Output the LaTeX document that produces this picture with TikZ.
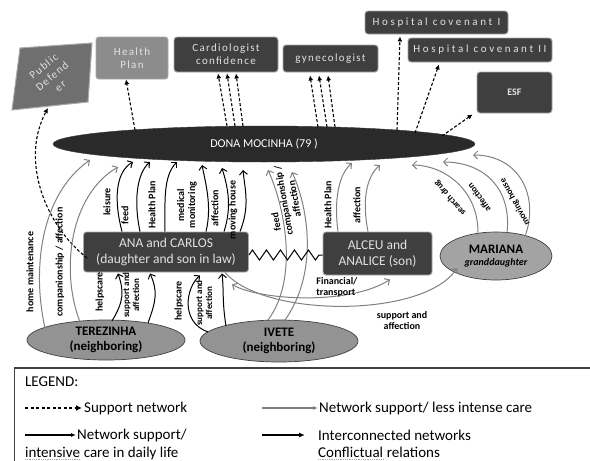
\documentclass[tikz,border=0pt]{standalone}
\usepackage{fontspec}
\setmainfont{Carlito}
\usetikzlibrary{arrows.meta,shapes.geometric,decorations.pathmorphing}
\definecolor{boxdark}{HTML}{3F3F3F}
\definecolor{boxmid}{HTML}{8C8C8C}
\definecolor{pdfill}{HTML}{6F6F6F}
\definecolor{txtlight}{HTML}{E2E2E2}
\definecolor{ellfill}{HTML}{2A2A2A}
\definecolor{neighfill}{HTML}{939393}
\definecolor{marfill}{HTML}{A3A3A3}
\definecolor{lessgray}{HTML}{808080}
\definecolor{edgegray}{HTML}{A8A8A8}
\begin{document}
\begin{tikzpicture}[x=1pt,y=-1pt,
  darkbox/.style={draw=edgegray, line width=0.9pt, fill=boxdark, rounded corners=3pt, text=txtlight, align=center, inner sep=1pt},
  topfont/.style={font=\fontsize{11}{13}\selectfont\addfontfeature{LetterSpace=12}},
  widefont/.style={font=\fontsize{11}{13}\selectfont\addfontfeature{LetterSpace=24}},
  famfont/.style={font=\fontsize{13.5}{16}\selectfont},
  neigh/.style={ellipse, draw=gray!50!black, line width=0.7pt, fill=neighfill, text=black, align=center, font=\bfseries\fontsize{13}{15}\selectfont, inner sep=0pt},
  supp/.style={dash pattern=on 3pt off 2pt, line width=1.1pt, -{Latex[length=5pt,width=5pt]}},
  intense/.style={black, line width=1pt, -{Straight Barb[length=4pt,width=8pt]}},
  lessint/.style={lessgray, line width=1pt, -{Straight Barb[length=4pt,width=8pt]}},
  lab/.style={font=\bfseries\fontsize{10}{11}\selectfont, inner sep=0.5pt, align=center},
  smlab/.style={font=\bfseries\fontsize{9}{10}\selectfont, inner sep=0.5pt, align=center},
  legtext/.style={font=\fontsize{15}{17}\selectfont, anchor=west, inner sep=0pt},
]
\useasboundingbox (0,0) rectangle (590,461);

% ---- top level services ----
\draw[fill=pdfill, draw=edgegray, line width=1pt] (20,48) -- (92,43) -- (88,102) -- (12,110) -- cycle;
\node[topfont, text=txtlight, rotate=40, align=center, inner sep=0pt] (pd) at (52,76) {Public\\Defend\\er};
\coordinate (pdtip) at (48,108);
\node[darkbox, fill=boxmid, topfont, minimum width=72pt, minimum height=42pt] (hp) at (132,58) {Health\\Plan};
\node[darkbox, topfont, minimum width=104pt, minimum height=35pt] (cardio) at (226,54.5) {Cardiologist\\confidence};
\node[darkbox, topfont, minimum width=95pt, minimum height=27pt] (gyn) at (330.5,58.5) {gynecologist};
\node[darkbox, widefont, minimum width=143pt, minimum height=23pt] (hcone) at (436.5,22.5) {Hospital covenant I};
\node[darkbox, widefont, minimum width=144pt, minimum height=24pt] (hctwo) at (480,50) {Hospital covenant II};
\node[darkbox, topfont, font=\bfseries, minimum width=75pt, minimum height=41pt] (esf) at (514.5,92.5) {ESF};

% ---- central person ----
\node[ellipse, fill=ellfill, draw=gray!40!black, minimum width=422pt, minimum height=36pt, inner sep=0pt, text=white, font=\fontsize{12}{14}\selectfont] (dona) at (264,144) {DONA MOCINHA (79 )};

% ---- family ----
\node[darkbox, famfont, minimum width=165pt, minimum height=40pt] (ana) at (166,252) {ANA and CARLOS\\(daughter and son in law)};
\node[darkbox, famfont, minimum width=109pt, minimum height=43pt] (alceu) at (377.5,253.5) {ALCEU and\\ANALICE (son)};
\node[neigh, fill=marfill, minimum width=112pt, minimum height=48pt] (mariana) at (496,256) {MARIANA\\[-3pt]{\itshape\fontsize{10}{12}\selectfont granddaughter}};
\node[neigh, minimum width=158pt, minimum height=40pt] (terezinha) at (106,340) {TEREZINHA\\(neighboring)};
\node[neigh, minimum width=158pt, minimum height=42pt] (ivete) at (279,341) {IVETE\\(neighboring)};

% ---- support network (dashed) ----
\draw[supp] ([shift={(4,6)}]ana.west) .. controls (45,225) and (20,160) .. (pdtip);
\draw[supp] ([shift={(-129,-14)}]dona.center) -- ([xshift=-6pt]hp.south);
\draw[supp] ([shift={(-37,-18)}]dona.center) -- ([shift={(-8,1)}]cardio.south);
\draw[supp] ([shift={(-29,-18)}]dona.center) -- ([shift={(1,1)}]cardio.south);
\draw[supp] ([shift={(-21,-18)}]dona.center) -- ([shift={(10,1)}]cardio.south);
\draw[supp] ([shift={(54,-17)}]dona.center) -- ([shift={(-20.5,3)}]gyn.south);
\draw[supp] ([shift={(63,-17)}]dona.center) -- ([shift={(-11.5,3)}]gyn.south);
\draw[supp] ([shift={(71,-17)}]dona.center) -- ([shift={(-2.5,3)}]gyn.south);
\draw[supp] ([shift={(133,-14)}]dona.center) -- ([shift={(-36.5,2)}]hcone.south);
\draw[supp] ([shift={(151,-11)}]dona.center) -- ([shift={(-41,2)}]hctwo.south);
\draw[supp] ([shift={(178,-8)}]dona.center) -- ([shift={(-4,1)}]esf.south west);

% ---- ANA and CARLOS -> Dona (intensive) ----
\draw[intense] ([xshift=-44pt]ana.north) .. controls +(-8,-30) and +(-18,10) .. ([shift={(-131,18)}]dona.center);
\draw[intense] ([xshift=-26pt]ana.north) .. controls +(-6,-28) and +(-14,12) .. ([shift={(-114,18)}]dona.center);
\draw[intense] ([xshift=-1pt]ana.north) .. controls +(0,-30) and +(-14,14) .. ([shift={(-87,18)}]dona.center);
\draw[intense] ([xshift=40pt]ana.north) .. controls +(6,-25) and +(4,20) .. ([shift={(-62,21)}]dona.center);
\draw[intense] ([xshift=58pt]ana.north) .. controls +(8,-25) and +(6,20) .. ([shift={(-42,24)}]dona.center);
\draw[intense] ([xshift=74pt]ana.north) .. controls +(10,-25) and +(2,20) .. ([shift={(-21,26)}]dona.center);
\node[lab, rotate=90] (lleisure) at (107,202) {leisure};
\node[lab, rotate=90] (lfeeda) at (125,215) {feed};
\node[lab, rotate=90] (lhpa) at (152,205) {Health Plan};
\node[lab, rotate=90] (lmed) at (187,205) {medical\\monitoring};
\node[lab, rotate=90] (laffa) at (215,208) {affection};
\node[lab, rotate=90] (lmova) at (233,210) {moving house};

% ---- Terezinha ----
\draw[lessint] ([shift={(-61,-12)}]terezinha.center) .. controls +(-13,-58) and +(-50,35) .. ([shift={(-174,16)}]dona.center);
\draw[lessint] ([shift={(-26,-18)}]terezinha.center) .. controls +(-20,-52) and +(-48,28) .. ([shift={(-146,23)}]dona.center);
\draw[intense] ([shift={(6,-19)}]terezinha.center) .. controls +(12,-20) and +(6,18) .. ([shift={(-48,1)}]ana.south);
\draw[intense] ([shift={(42,-17)}]terezinha.center) .. controls +(8,-22) and +(8,18) .. ([shift={(-16,1)}]ana.south);
\node[lab, rotate=90] (lhome) at (30,272) {home maintenance};
\node[lab, rotate=90] (lcompa) at (60,262) {companionship / affection};
\node[lab, rotate=90] (lhelpa) at (100,292) {helpscare};
\node[smlab, rotate=90] (lsuppa) at (131,295) {support and\\affection};

% ---- Ivete ----
\draw[intense] ([shift={(-71,-9)}]ivete.center) .. controls +(-28,-10) and +(-14,12) .. ([shift={(34,3)}]ana.south);
\draw[intense] ([shift={(-53,-15)}]ivete.center) .. controls +(-4,-25) and +(2,18) .. ([shift={(56,1)}]ana.south);
\draw[lessint] ([shift={(-11,-21)}]ivete.center) .. controls +(30,-40) and +(18,40) .. ([shift={(4,26)}]dona.center);
\draw[lessint] ([shift={(6,-21)}]ivete.center) .. controls +(32,-45) and +(18,40) .. ([shift={(28,28)}]dona.center);
\node[lab, rotate=90] (lhelpb) at (179,301) {helpscare};
\node[smlab, rotate=90] (lsuppb) at (204,303) {support and\\affection};
\node[lab, rotate=100] (lfeedb) at (276,222) {feed};
\node[lab, rotate=100] (lcompb) at (289,200) {companionship /\\affection};

% ---- conflict ----
\draw[black, line width=1pt, decorate, decoration={zigzag, segment length=14pt, amplitude=5pt}] ([yshift=-3pt]ana.east) -- ([yshift=-1.5pt]alceu.west);

% ---- Alceu ----
\draw[lessint] ([xshift=-39.5pt]alceu.north) .. controls +(-4,-30) and +(-14,12) .. ([shift={(88,19)}]dona.center);
\draw[lessint] ([xshift=-9.5pt]alceu.north) .. controls +(-6,-30) and +(-14,12) .. ([shift={(116,21)}]dona.center);
\node[lab, rotate=90] (lhpb) at (328,205) {Health Plan};
\node[lab, rotate=90] (laffb) at (357,205) {affection};
\draw[lessint, {Straight Barb[length=4pt,width=8pt]}-{Straight Barb[length=4pt,width=8pt]}] ([shift={(66,12)}]ana.south) .. controls +(28,16) and +(-40,26) .. ([shift={(12.5,4)}]alceu.south);
\node[lab, align=left] (lfin) at (337,287) {Financial/\\transport};

% ---- Mariana ----
\draw[lessint] ([shift={(59,0)}]ana.south) .. controls +(40,46) and +(-32,50) .. ([shift={(-39,12)}]mariana.center);
\node[lab] (lsuppc) at (402,321) {support and\\affection};
\draw[lessint] ([shift={(-18,1)}]mariana.north) .. controls +(0,-45) and +(30,0) .. ([shift={(148,21)}]dona.center);
\draw[lessint] ([shift={(11,1)}]mariana.north) .. controls +(5,-45) and +(40,0) .. ([shift={(179,18)}]dona.center);
\draw[lessint] ([shift={(29,5)}]mariana.north) .. controls +(15,-42) and +(45,0) .. ([shift={(209,11)}]dona.center);
\node[smlab, rotate=131] (lsearch) at (450,198) {search drug};
\node[smlab, rotate=126] (laffc) at (479,198) {affection};
\node[smlab, rotate=119] (lmovc) at (515,202) {moving house};

% ---- legend ----
\draw[line width=1.4pt, black!75] (14,368) -- (590,368);
\draw[line width=0.8pt, black!75] (14,368) -- (14,461);
\node[legtext] (legtitle) at (25,382) {LEGEND:};
\coordinate (la) at (25,408); \coordinate (lb) at (82,408);
\draw[dash pattern=on 3pt off 2.5pt, line width=1.2pt, -{Latex[length=6pt,width=6pt]}] (la) -- (lb);
\node[legtext] (lt1) at (84,408) {Support network};
\coordinate (lc) at (262,408); \coordinate (ld) at (318,408);
\draw[lessgray, line width=1.2pt, -{Latex[length=5pt,width=4pt]}] (lc) -- (ld);
\node[legtext] (lt2) at (319,408) {Network support/ less intense care};
\coordinate (le) at (25,435); \coordinate (lf) at (76,435);
\draw[black, line width=1.2pt, -{Latex[length=5pt,width=4pt]}] (le) -- (lf);
\node[legtext] (lt3) at (77,435) {Network support/};
\node[legtext] (lt3w) at (25,452) {intensive};
\node[legtext, anchor=base west] (lt3r) at (lt3w.base east) {\ care in daily life};
\draw[gray!70, densely dotted, line width=0.8pt] ([yshift=-2pt]lt3w.south west) -- ([yshift=-2pt]lt3w.south east);
\coordinate (lg) at (262,435); \coordinate (lh) at (305,435);
\draw[black, line width=1.2pt, -{Latex[length=6pt,width=5pt]}] (lg) -- (lh);
\node[legtext] (lt4) at (318,435) {Interconnected networks};
\node[legtext] (lt5w) at (318,452) {Conflictual};
\node[legtext, anchor=base west] (lt5r) at (lt5w.base east) {\ relations};
\draw[gray!70, densely dotted, line width=0.8pt] ([yshift=-2pt]lt5w.south west) -- ([yshift=-2pt]lt5w.south east);
\end{tikzpicture}
\end{document}
